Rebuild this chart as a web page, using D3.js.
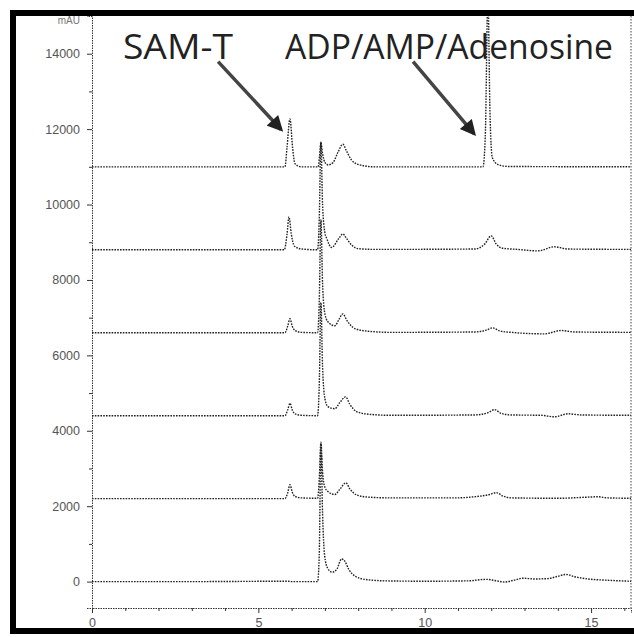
<!DOCTYPE html>
<html>
<head>
<meta charset="utf-8">
<script src="https://cdn.jsdelivr.net/npm/d3@7"></script>
<style>
    body { margin: 0; background: #fff; }
    svg { display: block; }
    .tick text { font-family: "Liberation Sans", sans-serif; font-size: 12.5px; fill: #555; }
    .domain, .tick line { stroke: #333; }
</style>
</head>
<body>
<svg width="634" height="637"></svg>
<script>

// Valores (tempo em min, sinal relativo à linha de base de cada traço).
const xTicks = [0, 5, 10, 15];
const xMinor = [1, 2, 3, 4, 6, 7, 8, 9, 11, 12, 13, 14, 16];
const yTicks = [0, 2000, 4000, 6000, 8000, 10000, 12000, 14000];
const yMinor = [1000, 3000, 5000, 7000, 9000, 11000, 13000];
const yUnit = "mAU";

// Deslocamento vertical de cada traço (de baixo pra cima).
const offsets = [0, 2200, 4400, 6600, 8800, 11000];

const trace0 = [[0,0],[3,0],[5.9,10],[6.0,0],[6.78,0],[6.83,700],[6.88,3660],[6.93,1800],[6.99,700],[7.08,360],[7.22,250],[7.36,330],[7.5,600],[7.6,540],[7.72,320],[7.9,150],[8.2,60],[8.8,20],[10,10],[11.3,20],[11.85,60],[12.1,30],[12.4,-10],[12.7,40],[12.95,90],[13.3,70],[13.7,80],[14.0,140],[14.25,190],[14.5,130],[14.9,70],[15.4,40],[16.2,10]];
const trace1 = [[0,0],[5.8,0],[5.88,150],[5.95,370],[6.02,170],[6.1,60],[6.3,20],[6.78,10],[6.83,500],[6.88,1500],[6.93,700],[7.0,300],[7.09,190],[7.3,110],[7.45,250],[7.63,420],[7.75,260],[7.95,100],[8.3,40],[9,20],[10.9,20],[11.5,50],[11.95,110],[12.15,160],[12.35,70],[12.6,20],[14,10],[14.9,40],[15.2,50],[15.5,20],[16.2,10]];
const trace2 = [[0,0],[5.8,0],[5.88,150],[5.95,330],[6.02,150],[6.1,50],[6.3,10],[6.78,0],[6.83,800],[6.88,3000],[6.93,1300],[7.0,450],[7.09,240],[7.3,185],[7.45,350],[7.62,500],[7.75,300],[7.95,110],[8.3,40],[9,10],[11.5,20],[11.9,80],[12.1,160],[12.3,60],[12.6,20],[13.5,10],[13.9,-30],[14.3,50],[14.7,20],[16.2,10]];
const trace3 = [[0,0],[5.8,0],[5.88,170],[5.95,370],[6.02,170],[6.1,60],[6.3,10],[6.78,0],[6.83,800],[6.88,3000],[6.93,1300],[7.0,500],[7.09,290],[7.3,185],[7.42,350],[7.54,500],[7.66,330],[7.9,110],[8.3,40],[9,10],[11.5,20],[11.85,70],[12.04,130],[12.25,50],[12.6,10],[13.6,-30],[14.1,60],[14.5,20],[16.2,10]];
const trace4 = [[0,0],[5.78,0],[5.86,400],[5.92,870],[5.99,420],[6.08,100],[6.3,20],[6.78,0],[6.83,800],[6.88,2850],[6.93,1200],[7.0,450],[7.06,290],[7.2,60],[7.42,300],[7.54,420],[7.65,300],[7.8,130],[8.0,30],[8.5,10],[11.5,20],[11.8,150],[12.0,370],[12.15,150],[12.35,40],[12.8,10],[13.4,-30],[13.9,80],[14.3,20],[16.2,10]];
const trace5 = [[0,0],[5.8,0],[5.86,500],[5.95,1270],[6.03,500],[6.1,80],[6.3,0],[6.8,0],[6.84,300],[6.88,650],[6.93,350],[7.0,120],[7.1,50],[7.25,120],[7.4,400],[7.54,600],[7.65,420],[7.8,180],[8.05,50],[8.5,0],[11.75,0],[11.82,800],[11.9,4500],[11.96,1500],[12.03,250],[12.2,60],[12.5,10],[16.2,0]];
const traces = [trace0, trace1, trace2, trace3, trace4, trace5];

// Anotações: texto com posição (tempo, sinal) e seta (início -> ponta).
const labels = ["SAM-T", "ADP/AMP/Adenosine"];
const labelPos = [[0.93, 13865], [5.8, 13865]];
const labelWidth = [110, 328];
const arrowFrom = [[3.79, 13790], [9.65, 13790]];
const arrowTo = [[5.68, 11990], [11.48, 11880]];

const svg = d3.select("svg");

const margem = { left: 92, right: 631, top: 16, bottom: 608 };

const x = d3.scaleLinear().domain([0, 16.2]).range([margem.left, margem.right]);
const y = d3.scaleLinear().domain([-700, 15000]).range([margem.bottom, margem.top]);

const defs = svg.append("defs");

defs.append("clipPath").attr("id", "area")
    .append("rect")
    .attr("x", margem.left).attr("y", margem.top)
    .attr("width", margem.right - margem.left).attr("height", margem.bottom - margem.top);

// Borda direita da área de plotagem.
svg.append("line")
    .attr("x1", margem.right).attr("x2", margem.right)
    .attr("y1", margem.top).attr("y2", margem.bottom)
    .attr("stroke", "#444").attr("stroke-dasharray", "1.5,1.5");

// Eixos.
svg.append("g")
    .attr("transform", "translate(0," + margem.bottom + ")")
    .call(d3.axisBottom(x).tickValues(xTicks).tickSize(5).tickPadding(5).tickFormat(d3.format("d")));

svg.append("g")
    .attr("transform", "translate(0," + margem.bottom + ")")
    .call(d3.axisBottom(x).tickValues(xMinor).tickSize(3).tickFormat(""))
    .select(".domain").remove();

svg.append("g")
    .attr("transform", "translate(" + margem.left + ",0)")
    .call(d3.axisLeft(y).tickValues(yTicks).tickSize(5).tickPadding(7).tickFormat(d3.format("d")));

svg.append("g")
    .attr("transform", "translate(" + margem.left + ",0)")
    .call(d3.axisLeft(y).tickValues(yMinor).tickSize(3).tickFormat(""))
    .select(".domain").remove();

svg.selectAll(".domain").attr("stroke-dasharray", "1.5,1");

svg.append("text")
    .attr("x", margem.left - 12).attr("y", margem.top + 8)
    .attr("text-anchor", "end")
    .attr("font-family", "Liberation Sans, sans-serif")
    .attr("font-size", 10).attr("fill", "#777")
    .text(yUnit);

// Traços.
const line = d3.line()
    .x(d => x(d[0]))
    .y(d => y(d[1]))
    .curve(d3.curveMonotoneX);

svg.append("g")
    .attr("clip-path", "url(#area)")
    .selectAll("path")
    .data(traces)
    .enter()
    .append("path")
    .attr("d", (d, i) => line(d.map(p => [p[0], p[1] + offsets[i]])))
    .attr("fill", "none")
    .attr("stroke", "#222")
    .attr("stroke-width", 1.4)
    .attr("stroke-dasharray", "1.6,1.2");

// Setas.
defs.append("marker")
    .attr("id", "head")
    .attr("viewBox", "0 0 10 10")
    .attr("refX", 8).attr("refY", 5)
    .attr("markerWidth", 5).attr("markerHeight", 4.5)
    .attr("orient", "auto")
    .append("path")
    .attr("d", "M0,0 L10,5 L0,10 z")
    .attr("fill", "#222");

svg.selectAll(".arrow")
    .data(arrowFrom)
    .enter()
    .append("line")
    .attr("class", "arrow")
    .attr("x1", d => x(d[0])).attr("y1", d => y(d[1]))
    .attr("x2", (d, i) => x(arrowTo[i][0])).attr("y2", (d, i) => y(arrowTo[i][1]))
    .attr("stroke", "#444")
    .attr("stroke-width", 3.5)
    .attr("marker-end", "url(#head)");

svg.selectAll(".rotulo")
    .data(labels)
    .enter()
    .append("text")
    .attr("class", "rotulo")
    .attr("x", (d, i) => x(labelPos[i][0]))
    .attr("y", (d, i) => y(labelPos[i][1]))
    .attr("textLength", (d, i) => labelWidth[i])
    .attr("lengthAdjust", "spacingAndGlyphs")
    .attr("font-family", "Open Sans, sans-serif")
    .attr("font-size", 34)
    .attr("fill", "#222")
    .text(d => d);

// Moldura externa grossa.
svg.append("rect")
    .attr("x", 13).attr("y", 13)
    .attr("width", 640).attr("height", 618)
    .attr("fill", "none")
    .attr("stroke", "#000")
    .attr("stroke-width", 6);
</script>
</body>
</html>
